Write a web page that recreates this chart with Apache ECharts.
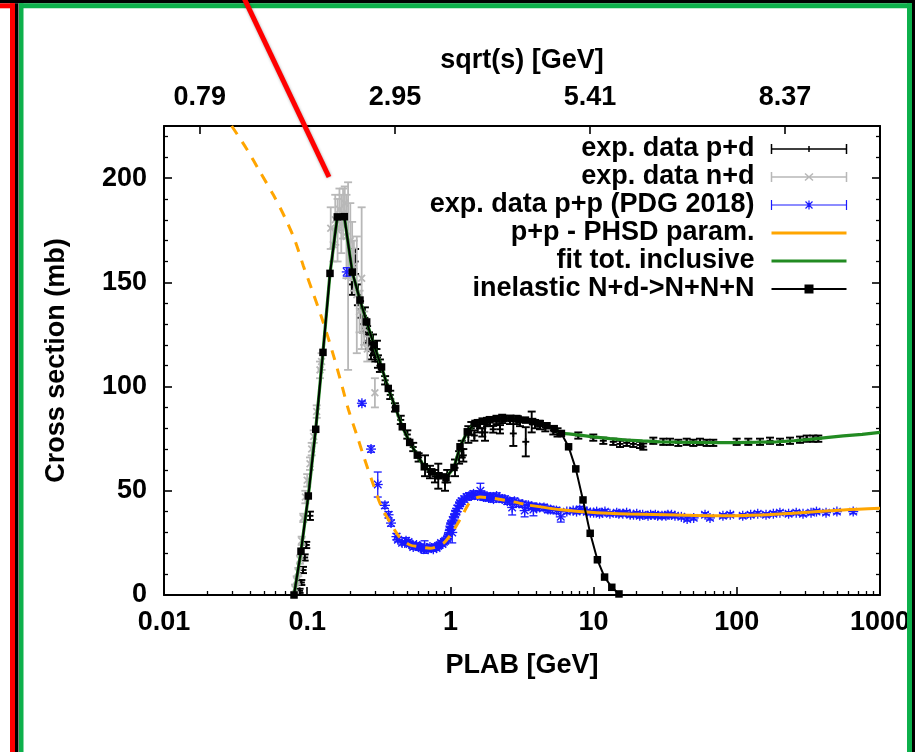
<!DOCTYPE html>
<html><head><meta charset="utf-8">
<script src="https://cdn.jsdelivr.net/npm/echarts@6/dist/echarts.min.js"></script>
<style>html,body{margin:0;padding:0;background:#fff}#c{width:915px;height:752px}</style>
</head><body><div id="c"></div>
<script>
// ---------- tick labels ----------
const xTickLabels = ['0.01', '0.1', '1', '10', '100', '1000'];
const yMajorTicks = [0, 50, 100, 150, 200];
const yMinorTicks = [10, 20, 30, 40, 60, 70, 80, 90, 110, 120, 130, 140, 160, 170, 180, 190, 210, 220];
const sqrtsTickPlab = [0.0178, 0.410, 9.44, 217];
const sqrtsTickLabels = ['0.79', '2.95', '5.41', '8.37'];

// ---------- series values: [plab, sigma] ----------
const inelastic = [
  [0.0809, 0], [0.0905, 21], [0.1018, 47.5], [0.1147, 79.5], [0.1289, 116.4], [0.1443, 154.3],
  [0.1623, 181.4], [0.1816, 181.5], [0.2065, 154.9], [0.2337, 141.5], [0.2603, 131], [0.2927, 120],
  [0.3304, 109.4], [0.3683, 99.1], [0.4150, 89.5], [0.4614, 80.7], [0.5197, 73.2], [0.5873, 67.1],
  [0.6573, 61.5], [0.7405, 59.1], [0.8325, 57.2], [0.9317, 56.3], [1.0596, 61.2], [1.167, 71.1],
  [1.312, 78.3], [1.485, 82.3], [1.668, 83.4], [1.873, 84.1], [2.102, 84.5], [2.360, 84.7],
  [2.650, 84.7], [2.975, 84.4], [3.340, 83.9], [3.750, 83.2], [4.210, 82.3], [4.727, 81.2],
  [5.307, 79.8], [5.958, 77.5], [6.689, 71.1], [7.510, 60.5], [8.432, 45.6], [9.467, 29.6],
  [10.63, 16.9], [11.93, 8.6], [13.40, 3.7], [15.04, 0.5]
];
const fitInclusiveHigh = [
  [5.958, 77.5], [6.7, 77.3], [8.0, 76.7], [9.95, 75.9], [13.0, 75.0], [17.0, 74.3], [22.0, 73.9],
  [29.1, 73.5], [38.0, 73.3], [49.4, 73.2], [65.0, 73.1], [99.8, 73.1], [140, 73.3], [190, 73.5],
  [250, 74.0], [325, 74.7], [420, 75.5], [554, 76.3], [750, 77.1], [1000, 78.0]
];
const phsdLow = [
  [0.0297, 225], [0.0378, 214], [0.0468, 203], [0.058, 192], [0.070, 181], [0.0822, 170],
  [0.0939, 158], [0.1085, 146], [0.1263, 133], [0.148, 118], [0.174, 101], [0.194, 89],
  [0.2263, 75], [0.2465, 67], [0.2894, 53], [0.3314, 42], [0.3892, 33.6], [0.4446, 27.5],
  [0.5222, 24], [0.5967, 23.2], [0.7204, 22.4], [0.892, 24.8], [1.021, 29.6], [1.199, 37.6],
  [1.37, 44.5], [1.609, 47], [1.993, 46.4], [2.75, 44.7], [3.596, 43]
];
const phsdHigh = [
  [3.596, 43], [6.144, 40.8], [10.51, 39.5], [17.96, 38.9], [38.05, 38.4], [85, 38.0],
  [150, 38.4], [248, 39.2], [554, 40.8], [1000, 41.6]
];
// experimental data: [plab, sigma, error]
const expPD = [
  [0.0885, 2, 1], [0.091, 6, 1.2], [0.0935, 12, 1.5], [0.096, 18, 1.5], [0.0985, 24, 1.5], [0.1045, 38, 2],
  [0.205, 149, 5], [0.216, 160, 6], [0.226, 144, 5], [0.234, 137, 4], [0.245, 130, 4], [0.253, 133, 5],
  [0.262, 125, 4], [0.270, 122, 4], [0.279, 117, 4], [0.288, 120, 5], [0.298, 115, 3], [0.307, 118, 4],
  [0.312, 112, 3], [0.322, 110, 3], [0.35, 103, 2], [0.38, 96, 2], [0.41, 90, 2], [0.45, 84, 2],
  [0.50, 77, 2], [0.55, 71, 2], [0.60, 66, 2], [0.665, 62, 5], [0.72, 59, 3], [0.78, 57, 3],
  [0.823, 57, 6], [0.917, 54, 4], [0.95, 57, 3], [1.077, 61, 4], [1.15, 66, 3], [1.20, 70, 4],
  [1.231, 67, 3], [1.334, 77, 4], [1.40, 80, 3], [1.47, 76.5, 2.5], [1.55, 81, 3], [1.609, 82, 2],
  [1.67, 78, 2], [1.745, 78, 4], [1.80, 83, 2], [1.891, 83, 2], [1.99, 79.5, 1.6], [2.10, 84, 2],
  [2.22, 79.5, 2], [2.30, 84.5, 2], [2.608, 84, 2], [2.75, 77.5, 6], [2.90, 84, 2], [3.062, 83, 2],
  [3.36, 73.5, 7], [3.696, 83, 5], [3.90, 82, 2], [4.224, 81.5, 2], [4.60, 80.5, 2], [5.232, 79, 2],
  [5.60, 78, 2], [7.82, 76.5, 1.5], [9.95, 75.5, 1.5], [11.69, 74, 1.5], [13.73, 73.5, 1.5],
  [15.29, 72.5, 1.5], [17.03, 73, 1.5], [18.94, 72.5, 1.5], [21.09, 72, 1.5], [22.24, 71.2, 1.5],
  [26.12, 74, 1.5], [30.67, 73.5, 1.5], [34.16, 73.5, 1.5], [39.05, 73, 1.5], [44.68, 73.5, 1.5],
  [49.7, 73, 1.5], [55.3, 73.5, 1.5], [61.6, 73, 1.5], [68.5, 73, 1.5], [99.8, 73.5, 1.5],
  [120.3, 73.5, 1.5], [145.2, 73.5, 1.5], [170.6, 74, 1.5], [200.3, 73.5, 1.5], [235.3, 74, 1.5],
  [276.3, 74.5, 1.5], [307.7, 75, 1.5], [342.2, 75, 1.5], [370.8, 75, 1.5]
];
const expND = [
  [0.0822, 3, 2], [0.0845, 7, 2], [0.0867, 11, 2], [0.089, 17, 2], [0.0915, 26, 2], [0.0939, 37, 2],
  [0.0971, 47, 3], [0.100, 55, 3], [0.1046, 63, 3], [0.1075, 70, 3], [0.111, 76, 3], [0.1165, 88, 3],
  [0.1229, 108, 4], [0.126, 112, 4], [0.146, 176, 10], [0.152, 168, 8], [0.157, 180, 12],
  [0.163, 175, 15], [0.168, 185, 10], [0.173, 178, 14], [0.178, 183, 12], [0.183, 188, 8],
  [0.188, 172, 20], [0.193, 153, 45], [0.200, 170, 18], [0.206, 165, 14], [0.212, 158, 12],
  [0.222, 144, 28], [0.232, 136, 10], [0.240, 152, 34], [0.250, 128, 8], [0.263, 118, 6], [0.297, 97, 7]
];
const expPP = [
  [0.189, 155, 2], [0.241, 92, 1], [0.279, 70, 1.5], [0.311, 53, 6], [0.349, 43, 1.5], [0.37, 38.5, 1.5],
  [0.385, 34.5, 1.5], [0.42, 28, 1.5], [0.43, 26.5, 1], [0.46, 25, 1], [0.48, 25, 1], [0.49, 26, 1.5],
  [0.51, 25.5, 1], [0.52, 24.5, 1], [0.54, 24, 1], [0.55, 23, 1], [0.57, 23.5, 1], [0.58, 24, 1],
  [0.60, 23, 1.5], [0.62, 23, 1], [0.63, 22.5, 1], [0.65, 22, 1], [0.66, 23, 3], [0.68, 22.5, 1],
  [0.70, 22, 1], [0.72, 23, 1], [0.74, 22.5, 1], [0.76, 22, 1], [0.78, 23, 1], [0.80, 22.5, 1],
  [0.82, 23.5, 1], [0.84, 24, 1], [0.86, 25, 1], [0.88, 24.5, 1], [0.90, 25.5, 1], [0.92, 26, 1],
  [0.95, 27, 1], [0.96, 28, 1], [0.98, 30, 1], [0.99, 31, 1.5], [1.00, 33, 1.5], [1.01, 34, 1.5],
  [1.03, 30, 5], [1.04, 36, 1.5], [1.06, 37, 1.5], [1.08, 39, 1.5], [1.10, 40, 1.5], [1.12, 41.5, 1.5],
  [1.15, 43, 1.5], [1.17, 44, 1.5], [1.20, 45, 1.5], [1.25, 46, 1.5], [1.30, 47, 1.5], [1.35, 47.5, 1.5],
  [1.40, 47.5, 1.5], [1.45, 48.5, 1.5], [1.50, 48, 1.5], [1.55, 47.5, 1.5], [1.62, 50, 3.6], [1.65, 48, 1.5],
  [1.70, 47, 1.5], [1.75, 47, 1.5], [1.80, 47.5, 1.5], [1.85, 46.5, 1.5], [1.90, 47, 1.5], [1.95, 47, 1.5],
  [2.00, 46, 1.5], [2.10, 47.5, 1.5], [2.20, 46.5, 1.5], [2.30, 46, 1.5], [2.40, 46, 1.5], [2.50, 45, 1.5],
  [2.60, 45, 1.5], [2.70, 42, 3.6], [2.80, 45, 1.5], [3.00, 44, 1.5], [3.20, 43.5, 1.5], [3.30, 40.5, 3],
  [3.50, 43, 1.5], [3.70, 42.5, 1.5], [3.80, 41, 3], [4.00, 42, 1.5], [4.20, 42, 1.5], [4.50, 42, 1.5],
  [4.80, 41, 1.5], [5.00, 41, 1.5], [5.50, 40.5, 1.5], [5.90, 37.5, 2.5], [6.50, 40, 1], [7.20, 40.5, 1],
  [7.60, 40, 1], [8.0, 41, 1.5], [8.5, 40.5, 1], [9.0, 40, 1], [9.5, 39.5, 1], [10, 39.5, 1], [10.5, 40, 1],
  [11, 39, 1], [11.5, 39.5, 1], [12, 40, 1], [13, 39, 1], [14.5, 39.5, 1], [15, 39, 1], [16, 39, 1],
  [17, 39.5, 1], [18, 38.5, 1], [19, 38.5, 1], [20, 39, 1], [21, 38, 1], [22, 38.5, 1], [24, 38, 1],
  [25, 38.5, 1], [27, 38.5, 1], [28, 38, 1], [30, 38, 1], [32, 38, 1], [33, 38.5, 1], [35, 38.5, 1],
  [37, 38, 1], [41, 37.5, 1], [45, 36.5, 1], [50, 37, 1], [60, 38.5, 1], [65, 37, 1], [80, 38, 1],
  [90, 38.5, 1], [110, 38, 1], [125, 38.5, 1], [140, 39, 1], [160, 38.5, 1], [180, 39, 1], [200, 39.5, 1],
  [230, 39, 1], [260, 39.5, 1], [290, 39, 1], [330, 39.5, 1], [360, 40, 1], [420, 39.5, 1], [500, 40, 1],
  [650, 40, 1]
];
const fitInclusive = inelastic.filter(p => p[0] < 5.9).concat(fitInclusiveHigh);

// ---------- rendering ----------
const FONT = "'Liberation Sans', Arial, Helvetica, sans-serif";
const txt = {fontFamily: FONT, fontWeight: 'bold', fontSize: 27, color: '#000'};

function errorBars(color, lw, cap, marker, ms) {
  return function (params, api) {
    const x = api.value(0), y = api.value(1), e = api.value(2);
    const c = api.coord([x, y]);
    const t = api.coord([x, y + e])[1];
    const b = api.coord([x, y - e])[1];
    const L = (x1, y1, x2, y2) => ({type: 'line', shape: {x1, y1, x2, y2}, style: {stroke: color, lineWidth: lw}});
    const ch = [L(c[0], t, c[0], b), L(c[0] - cap, t, c[0] + cap, t), L(c[0] - cap, b, c[0] + cap, b)];
    if (marker === 'plus' || marker === 'star') {
      ch.push(L(c[0] - ms, c[1], c[0] + ms, c[1]));
      ch.push(L(c[0], c[1] - ms, c[0], c[1] + ms));
    }
    if (marker === 'cross' || marker === 'star') {
      const d = ms * 0.75;
      ch.push(L(c[0] - d, c[1] - d, c[0] + d, c[1] + d));
      ch.push(L(c[0] - d, c[1] + d, c[0] + d, c[1] - d));
    }
    return {type: 'group', children: ch};
  };
}

const chart = echarts.init(document.getElementById('c'), null, {renderer: 'canvas'});
const axisLine = {show: true, onZero: false, lineStyle: {color: '#000', width: 2}};
const tickStyle = {color: '#000', width: 1.6};
const frameG = '#0db04b';
chart.setOption({
  animation: false,
  backgroundColor: '#fff',
  grid: {left: 164, right: 35, top: 126, bottom: 157, outerBoundsMode: 'none'},
  legend: {
    orient: 'vertical', right: 61, top: 130, align: 'right', itemWidth: 75, itemHeight: 10,
    itemGap: 0, selectedMode: false,
    textStyle: Object.assign({}, txt, {lineHeight: 28, padding: [0, 12, 0, 0]}),
    data: [
      {name: 'exp. data p+d', icon: 'path://M0 0V10M0 5H75M75 0V10M37.5 2V8',
        itemStyle: {color: 'none', borderColor: '#000', borderWidth: 1.5}},
      {name: 'exp. data n+d', icon: 'path://M0 0V10M0 5H75M75 0V10M33.5 1.5L41.5 8.5M33.5 8.5L41.5 1.5',
        itemStyle: {color: 'none', borderColor: '#b8b8b8', borderWidth: 1.5}},
      {name: 'exp. data p+p (PDG 2018)', icon: 'path://M0 0V10M0 5H75M75 0V10M33 5H42M37.5 0.5V9.5M34 1.5L41 8.5M34 8.5L41 1.5',
        itemStyle: {color: 'none', borderColor: '#1a1aff', borderWidth: 1.2}},
      {name: 'p+p - PHSD param.', icon: 'path://M0 0M75 10M0 5H75',
        itemStyle: {color: 'none', borderColor: '#ffa500', borderWidth: 3}},
      {name: 'fit tot. inclusive', icon: 'path://M0 0M75 10M0 5H75',
        itemStyle: {color: 'none', borderColor: '#228b22', borderWidth: 3}},
      {name: 'inelastic N+d->N+N+N', icon: 'path://M0 0M75 10M0 5H75M34 1.5H41V8.5H34Z',
        itemStyle: {color: '#000', borderColor: '#000', borderWidth: 2}}
    ]
  },
  xAxis: [
    {
      type: 'log', logBase: 10, min: 0.01, max: 1000, position: 'bottom',
      name: 'PLAB [GeV]', nameLocation: 'middle', nameGap: 57, nameTextStyle: txt,
      axisLine,
      axisTick: {show: true, inside: true, length: 8, lineStyle: tickStyle},
      minorTick: {show: true, splitNumber: 9, length: 4, lineStyle: {color: '#000', width: 1.3}},
      axisLabel: Object.assign({}, txt, {margin: 14, formatter: v => {
        const s = xTickLabels.find(l => Math.abs(Math.log10(+l) - Math.log10(v)) < 1e-6);
        return s || '';
      }}),
      splitLine: {show: false}, minorSplitLine: {show: false}
    },
    {
      type: 'log', logBase: 10, min: 0.01, max: 1000, position: 'top',
      name: 'sqrt(s) [GeV]', nameLocation: 'middle', nameGap: 52, nameTextStyle: txt,
      axisLine,
      axisTick: {show: true, inside: true, length: 8, customValues: sqrtsTickPlab, lineStyle: tickStyle},
      axisLabel: Object.assign({}, txt, {margin: 15, customValues: sqrtsTickPlab, formatter: v => {
        let bi = 0, bd = 1e9;
        sqrtsTickPlab.forEach((p, i) => { const d = Math.abs(Math.log10(p) - Math.log10(v)); if (d < bd) { bd = d; bi = i; } });
        return sqrtsTickLabels[bi];
      }}),
      splitLine: {show: false}
    }
  ],
  yAxis: [
    {
      type: 'value', min: 0, max: 225, position: 'left',
      name: 'Cross section (mb)', nameLocation: 'middle', nameGap: 94, nameRotate: 90, nameTextStyle: txt,
      axisLine,
      axisTick: {show: true, inside: true, length: 8, customValues: yMajorTicks, lineStyle: tickStyle},
      axisLabel: Object.assign({}, txt, {margin: 17, customValues: yMajorTicks}),
      splitLine: {show: false}
    },
    {
      type: 'value', min: 0, max: 225, position: 'left',
      axisLine: {show: false},
      axisTick: {show: true, inside: true, length: 4, customValues: yMinorTicks, lineStyle: {color: '#000', width: 1.3}},
      axisLabel: {show: false}, splitLine: {show: false}
    },
    {
      type: 'value', min: 0, max: 225, position: 'right',
      axisLine,
      axisTick: {show: true, inside: true, length: 8, customValues: yMajorTicks, lineStyle: tickStyle},
      axisLabel: {show: false}, splitLine: {show: false}
    },
    {
      type: 'value', min: 0, max: 225, position: 'right',
      axisLine: {show: false},
      axisTick: {show: true, inside: true, length: 4, customValues: yMinorTicks, lineStyle: {color: '#000', width: 1.3}},
      axisLabel: {show: false}, splitLine: {show: false}
    }
  ],
  series: [
    {type: 'custom', name: 'exp. data p+d', data: expPD, encode: {x: 0, y: 1}, clip: true,
      itemStyle: {color: '#000'}, renderItem: errorBars('#000', 1.9, 4, 'plus', 3.5)},
    {type: 'custom', name: 'exp. data n+d', data: expND, encode: {x: 0, y: 1}, clip: true,
      itemStyle: {color: '#b8b8b8'}, renderItem: errorBars('#b8b8b8', 1.8, 4, 'cross', 4.5)},
    {type: 'custom', name: 'exp. data p+p (PDG 2018)', data: expPP, encode: {x: 0, y: 1}, clip: true,
      itemStyle: {color: '#1a1aff'}, renderItem: errorBars('#1a1aff', 1.3, 4, 'star', 5)},
    {type: 'line', name: 'p+p - PHSD param. (dashed)', data: phsdLow, smooth: 0.3, symbol: 'none', clip: true,
      lineStyle: {color: '#ffa500', width: 3, type: [10, 9]}},
    {type: 'line', name: 'p+p - PHSD param.', data: phsdHigh, smooth: 0.3, symbol: 'none', clip: true,
      itemStyle: {color: '#ffa500'}, lineStyle: {color: '#ffa500', width: 3}},
    {type: 'line', name: 'fit tot. inclusive', data: fitInclusive, smooth: false, symbol: 'none', clip: true,
      itemStyle: {color: '#228b22'}, lineStyle: {color: '#228b22', width: 3.2}},
    {type: 'line', name: 'inelastic N+d->N+N+N', data: inelastic, smooth: false, symbol: 'rect', symbolSize: 7.5,
      clip: false, itemStyle: {color: '#000'}, lineStyle: {color: '#000', width: 2}}
  ],
  graphic: [
    {type: 'rect', z: 100, shape: {x: 0, y: 0, width: 915, height: 3.3}, style: {fill: '#000'}},
    {type: 'rect', z: 100, shape: {x: 0, y: 3.3, width: 15, height: 5}, style: {fill: '#ff0000'}},
    {type: 'rect', z: 100, shape: {x: 10, y: 3.3, width: 5, height: 760}, style: {fill: '#ff0000'}},
    {type: 'rect', z: 100, shape: {x: 15, y: 3.3, width: 3.5, height: 760}, style: {fill: '#000'}},
    {type: 'rect', z: 100, shape: {x: 19, y: 3.3, width: 893, height: 5}, style: {fill: frameG}},
    {type: 'rect', z: 100, shape: {x: 19, y: 3.3, width: 4.5, height: 760}, style: {fill: frameG}},
    {type: 'rect', z: 100, shape: {x: 907, y: 3.3, width: 5, height: 760}, style: {fill: frameG}},
    {type: 'rect', z: 100, shape: {x: 912, y: 0, width: 3, height: 760}, style: {fill: '#000'}},
    {type: 'line', z: 101, shape: {x1: 244, y1: -2, x2: 329, y2: 177},
      style: {stroke: '#ff0000', lineWidth: 5, shadowBlur: 3, shadowColor: 'rgba(0,0,0,0.35)'}}
  ]
});
</script></body></html>
